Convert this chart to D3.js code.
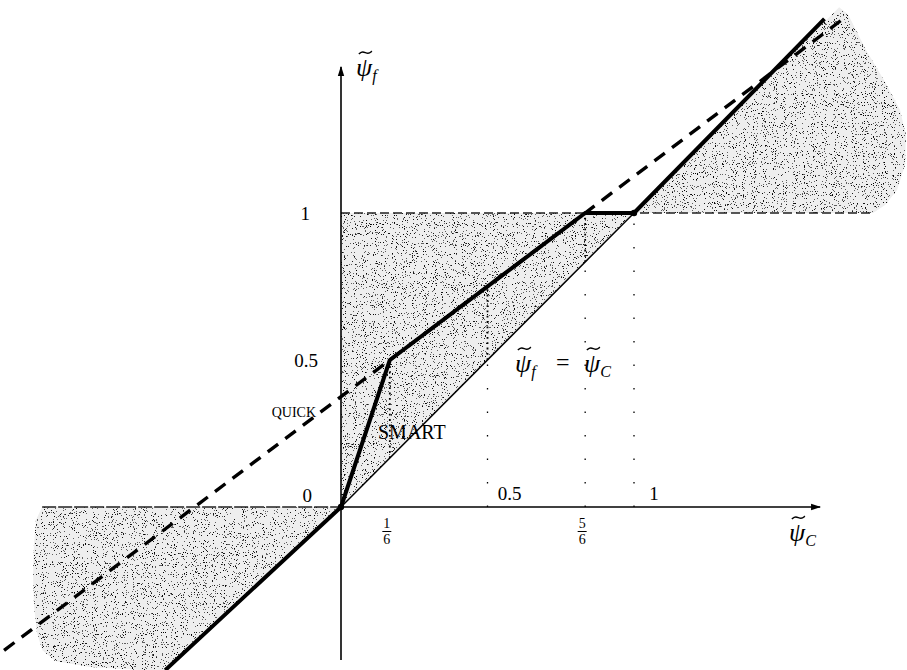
<!DOCTYPE html>
<html>
<head>
<meta charset="utf-8">
<script src="https://cdn.jsdelivr.net/npm/d3@7"></script>
<style>
  body { margin: 0; background: #fff; }
  text { font-family: "Liberation Serif", "DejaVu Serif", serif; fill: #000; }
</style>
</head>
<body>
<svg id="chart" width="907" height="670"></svg>
<script>
// SMART bounded scheme drawn in the normalized variable diagram (NVD)

// SMART characteristic: knots (psiC, psiF)
const smartKnots = [[-0.6, -0.555], [0, 0], [1/6, 0.5], [5/6, 1], [1, 1], [1.65, 1.66]];
// QUICK characteristic: end points of the straight line
const quickEnds = [[-1.15, -0.4875], [1.72, 1.665]];
// psiF = psiC reference line inside the unit interval
const diagonal = [[0, 0], [1, 1]];
// Convection boundedness criterion region between 0 and 1
const cbcTriangle = [[0, 0], [0, 1], [1, 1]];
// Shaded region for psiC < 0 (between psiF = 0 and psiF = psiC)
const leftRegion = [[0, 0], [-1.02, 0], [-1.041, -0.044], [-1.048, -0.129], [-1.051, -0.231],
  [-1.048, -0.333], [-1.038, -0.425], [-1.02, -0.486], [-0.976, -0.524], [-0.857, -0.544],
  [-0.686, -0.554], [-0.6, -0.555]];
// Shaded region for psiC > 1 (between psiF = 1 and psiF = psiC)
const rightRegion = [[1, 1], [1.816, 1], [1.857, 1.027], [1.898, 1.078], [1.925, 1.163],
  [1.928, 1.265], [1.908, 1.35], [1.857, 1.446], [1.792, 1.554], [1.73, 1.677], [1.7, 1.7]];
// Boundary lines of the shaded regions
const upperBound = [[0, 1], [1.816, 1]];
const lowerBound = [[-1.02, 0], [0, 0]];
// Dotted construction lines: [psiC, from psiF, to psiF]
const denseGuides = [[1/6, 1/6, 0.5], [0.5, 0.5, 0.75], [5/6, 5/6, 1]];
const sparseGuides = [[0.5, 0, 0.5], [5/6, 0, 5/6], [1, 0, 1]];
// Axis tick labels
const yTicks = [{ v: 0, label: "0" }, { v: 0.5, label: "0.5" }, { v: 1, label: "1" }];
const xTicks = [{ v: 0.5, label: "0.5" }, { v: 1, label: "1" }];
const xFracTicks = [{ v: 1/6, num: "1", den: "6" }, { v: 5/6, num: "5", den: "6" }];
// Axis extents
const xAxisExtent = [-1.02, 1.635];
const yAxisExtent = [-0.52, 1.497];

const svg = d3.select("#chart");
const x = d3.scaleLinear().domain([0, 1]).range([341, 634]);
const y = d3.scaleLinear().domain([0, 1]).range([507, 213]);
const line = d3.line().x(d => x(d[0])).y(d => y(d[1]));

const defs = svg.append("defs");
// grainy stipple texture for the shaded regions
const f = defs.append("filter").attr("id", "stipple")
  .attr("x", 0).attr("y", 0).attr("width", 1).attr("height", 1)
  .attr("filterUnits", "objectBoundingBox");
f.append("feTurbulence").attr("type", "fractalNoise").attr("baseFrequency", 0.9)
  .attr("numOctaves", 2).attr("seed", 7).attr("result", "noise");
f.append("feColorMatrix").attr("in", "noise").attr("type", "matrix")
  .attr("values", "0 0 0 0 0  0 0 0 0 0  0 0 0 0 0  1 0 0 0 0").attr("result", "a");
const ct = f.append("feComponentTransfer").attr("in", "a").attr("result", "dots");
ct.append("feFuncA").attr("type", "discrete")
  .attr("tableValues", "0 0 0 0 0 0 0 0 0 0 0 0 0 0.6 0.9 1 1 1 1 1");
f.append("feComposite").attr("in", "dots").attr("in2", "SourceGraphic").attr("operator", "in");

defs.append("marker").attr("id", "arrow").attr("viewBox", "0 0 10 8")
  .attr("refX", 9).attr("refY", 4).attr("markerWidth", 10).attr("markerHeight", 8)
  .attr("markerUnits", "userSpaceOnUse").attr("orient", "auto")
  .append("path").attr("d", "M0,0.8 L10,4 L0,7.2 Z").attr("fill", "#000");

// shaded regions: light gray base plus speckle
const regions = [cbcTriangle, leftRegion, rightRegion];
const shade = svg.append("g");
shade.selectAll("path.base").data(regions).join("path").attr("class", "base")
  .attr("d", d => line(d) + "Z").attr("fill", "#eeeeee");
shade.selectAll("path.grain").data(regions).join("path").attr("class", "grain")
  .attr("d", d => line(d) + "Z").attr("fill", "#000").attr("filter", "url(#stipple)");

// dotted construction lines
svg.append("g").selectAll("line").data(sparseGuides).join("line")
  .attr("x1", d => x(d[0])).attr("x2", d => x(d[0]))
  .attr("y1", d => y(d[1])).attr("y2", d => y(d[2]))
  .attr("stroke", "#000").attr("stroke-width", 1.3).attr("stroke-dasharray", "1.5,22");
svg.append("g").selectAll("line").data(denseGuides).join("line")
  .attr("x1", d => x(d[0])).attr("x2", d => x(d[0]))
  .attr("y1", d => y(d[1])).attr("y2", d => y(d[2]))
  .attr("stroke", "#000").attr("stroke-width", 1.8).attr("stroke-dasharray", "1.8,3.5");

// region boundaries
svg.append("path").attr("d", line(upperBound)).attr("fill", "none")
  .attr("stroke", "#222").attr("stroke-width", 1.5).attr("stroke-dasharray", "9,4");
svg.append("path").attr("d", line(lowerBound)).attr("fill", "none")
  .attr("stroke", "#222").attr("stroke-width", 1.5).attr("stroke-dasharray", "14,2");

// axes
svg.append("line").attr("x1", x(0)).attr("x2", x(xAxisExtent[1]))
  .attr("y1", y(0)).attr("y2", y(0)).attr("stroke", "#000").attr("stroke-width", 1.6)
  .attr("marker-end", "url(#arrow)");
svg.append("line").attr("x1", x(0)).attr("x2", x(0))
  .attr("y1", y(yAxisExtent[0])).attr("y2", y(yAxisExtent[1])).attr("stroke", "#000")
  .attr("stroke-width", 1.6).attr("marker-end", "url(#arrow)");

// psiF = psiC line
svg.append("path").attr("d", line(diagonal)).attr("fill", "none")
  .attr("stroke", "#000").attr("stroke-width", 1.5);

// QUICK
svg.append("path").attr("d", line(quickEnds)).attr("fill", "none")
  .attr("stroke", "#000").attr("stroke-width", 3.4).attr("stroke-dasharray", "13,9");

// SMART
svg.append("path").attr("d", line(smartKnots)).attr("fill", "none")
  .attr("stroke", "#000").attr("stroke-width", 4).attr("stroke-linejoin", "round");
svg.append("circle").attr("cx", x(1)).attr("cy", y(1)).attr("r", 3.2).attr("fill", "#000");
svg.append("circle").attr("cx", x(0)).attr("cy", y(0)).attr("r", 3.2).attr("fill", "#000");

// tick labels
const yLabelEnd = { "0": 312, "0.5": 318, "1": 310 };
svg.append("g").selectAll("text").data(yTicks).join("text")
  .attr("x", d => yLabelEnd[d.label]).attr("y", d => y(d.v) + (d.v === 0 ? -5 : 7))
  .attr("text-anchor", "end").attr("font-size", 19).text(d => d.label);
svg.append("g").selectAll("text").data(xTicks).join("text")
  .attr("x", d => x(d.v) + (d.v === 1 ? 20 : 22)).attr("y", y(0) - 7)
  .attr("text-anchor", "middle").attr("font-size", 19).text(d => d.label);
const fr = svg.append("g").selectAll("g").data(xFracTicks).join("g")
  .attr("transform", d => `translate(${x(d.v) - 3},${y(0)})`);
fr.append("text").attr("y", 21).attr("text-anchor", "middle").attr("font-size", 14).text(d => d.num);
fr.append("line").attr("x1", -4.5).attr("x2", 4.5).attr("y1", 24.5).attr("y2", 24.5)
  .attr("stroke", "#000").attr("stroke-width", 1);
fr.append("text").attr("y", 37).attr("text-anchor", "middle").attr("font-size", 14).text(d => d.den);

// tilde-psi symbol with subscript
const tildeShape = [[-0.5, 0.35], [-0.22, -0.45], [0.22, 0.45], [0.5, -0.35]];
const tildeLine = d3.line().curve(d3.curveBasis);
function psiLabel(g, px, py, sub, size) {
  const t = g.append("text").attr("x", px).attr("y", py).attr("font-size", size)
    .attr("font-style", "italic");
  t.append("tspan").text("\u03C8");
  t.append("tspan").attr("font-size", size * 0.62).attr("dy", size * 0.2).text(sub);
  const cx = px + size * 0.36, cy = py - size * 0.9, w = size * 0.5, h = size * 0.16;
  g.append("path")
    .attr("d", tildeLine(tildeShape.map(p => [cx + p[0] * w, cy + p[1] * h])))
    .attr("fill", "none").attr("stroke", "#000").attr("stroke-width", 1.5);
}
psiLabel(svg, 356, 76, "f", 26);
psiLabel(svg, 789, 541, "C", 26);
psiLabel(svg, 515, 372, "f", 26);
svg.append("text").attr("x", 556).attr("y", 370).attr("font-size", 24).text("=");
psiLabel(svg, 584, 372, "C", 26);

// scheme names
svg.append("text").attr("x", 316).attr("y", 417).attr("text-anchor", "end")
  .attr("font-size", 14).text("QUICK");
svg.append("text").attr("x", 378).attr("y", 439).attr("font-size", 20).text("SMART");
</script>
</body>
</html>
